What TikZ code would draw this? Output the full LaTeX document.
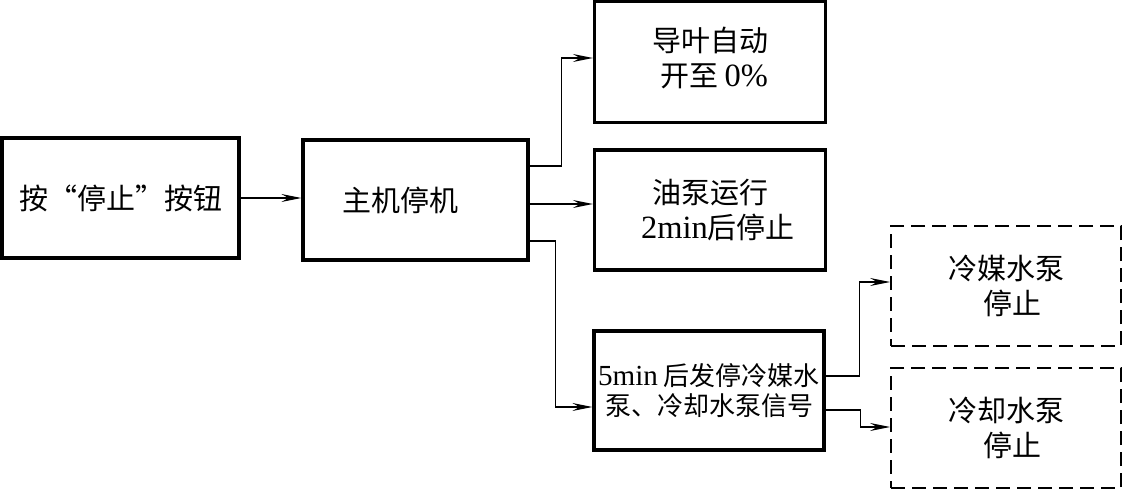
\documentclass[tikz,border=0pt]{standalone}
\usepackage{fontspec}
\setmainfont{Liberation Serif}
\newfontfamily\cjk{Noto Sans CJK SC}
\newfontfamily\latn[Scale=1.12]{Liberation Serif}
\usetikzlibrary{arrows.meta}
\newcommand{\lat}[1]{{\latn #1}}

\begin{document}
\begin{tikzpicture}[
    x=1pt,y=-1pt,
    box/.style={draw,line width=3.2pt,align=center,inner sep=0pt,
        font=\cjk\fontsize{29}{35}\selectfont},
    dbox/.style={box,line width=1.8pt,dash pattern=on 14pt off 7pt},
    arr/.style={line width=1.4pt,-{Stealth[length=20pt,width=8pt,inset=7pt]}}]
    \useasboundingbox (0,0) rectangle (1123,489);

    \node[box,minimum width=237pt,minimum height=120pt] (stop) at (120.5,198)
        {按“停止”按钮};
    \node[box,minimum width=225pt,minimum height=120pt] (host) at (415.5,200)
        {主机停机\hspace*{30pt}};
    \node[box,minimum width=231pt,minimum height=121pt] (vane) at (710,62)
        {\raisebox{7pt}{\begin{tabular}{@{}c@{}}导叶自动\\
        \hspace*{8pt}开至 \lat{0\%}\end{tabular}}};
    \node[box,minimum width=231pt,minimum height=120pt] (oil) at (710,210)
        {油泵运行\\ \hspace*{16pt}\lat{2min}后停止};
    \node[box,minimum width=230pt,minimum height=119pt,
        font=\cjk\fontsize{26}{30}\selectfont] (sig) at (709,390.5)
        {\lat{5min} 后发停冷媒水\\泵、冷却水泵信号};
    \node[dbox,minimum width=230pt,minimum height=120pt] (chw) at (1006,286)
        {冷媒水泵\\ \hspace*{12pt}停止};
    \node[dbox,minimum width=230pt,minimum height=120pt] (cow) at (1006,428)
        {冷却水泵\\ \hspace*{12pt}停止};

    \draw[arr] (stop.east) -- ([yshift=2pt]host.west);
    \draw[arr] ([yshift=34pt]host.east) -- ++(32,0) |- ([yshift=4pt]vane.west);
    \draw[arr] ([yshift=-4pt]host.east) -- ([yshift=6pt]oil.west);
    \draw[arr] ([yshift=-41pt]host.east) -- ++(26,0) |- ([yshift=-16.5pt]sig.west);
    \draw[arr] ([yshift=14.5pt]sig.east) -- ++(34,0) |- ([yshift=4pt]chw.west);
    \draw[arr] ([yshift=-19.5pt]sig.east) -- ++(35,0) |- ([yshift=1pt]cow.west);
\end{tikzpicture}
\end{document}
